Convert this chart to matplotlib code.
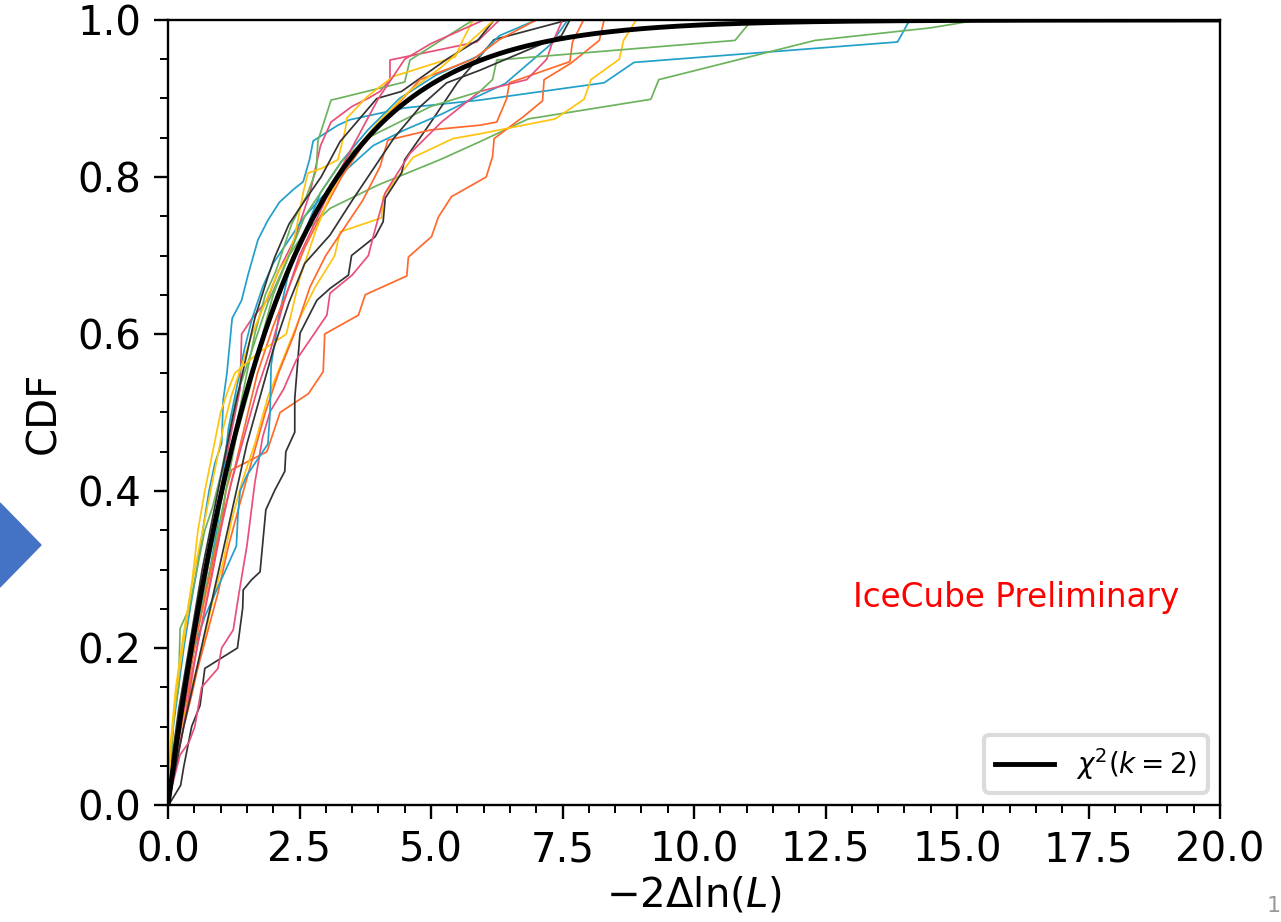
import numpy as np
import matplotlib
matplotlib.use("Agg")
import matplotlib.pyplot as plt
from matplotlib.patches import Polygon
from matplotlib.ticker import MultipleLocator

# ---------------- data ----------------
blue1_x = [0, 0.04, 0.1, 0.2, 0.3, 0.42, 0.55, 0.67, 0.78, 0.89, 1.02, 1.05, 1.12, 1.18, 1.22, 1.4, 1.52, 1.71, 1.9, 2.12, 2.4, 2.57, 2.69, 2.76, 3.23, 3.46, 4.5, 5.93, 8.29, 8.86, 13.87, 14.1]
blue1_y = [0, 0.05, 0.1, 0.15, 0.2, 0.25, 0.3, 0.354, 0.4, 0.435, 0.461, 0.516, 0.55, 0.592, 0.62, 0.643, 0.675, 0.72, 0.745, 0.768, 0.785, 0.794, 0.822, 0.846, 0.866, 0.873, 0.888, 0.898, 0.92, 0.946, 0.972, 1.0]

blue2_x = [0, 0.1, 0.25, 0.4, 0.6, 0.8, 0.95, 1.05, 1.15, 1.3, 1.45, 1.6, 1.8, 2.0, 2.3, 2.6, 3.0, 3.4, 3.9, 4.5, 5.2, 5.8, 6.41, 7.26, 7.6]
blue2_y = [0, 0.06, 0.12, 0.18, 0.24, 0.3, 0.36, 0.42, 0.48, 0.53, 0.58, 0.62, 0.66, 0.69, 0.72, 0.75, 0.78, 0.81, 0.84, 0.86, 0.88, 0.9, 0.919, 0.968, 1.0]

blue3_x = [0, 0.1, 0.2, 0.35, 0.5, 0.7, 0.9, 1.1, 1.3, 1.33, 1.37, 1.5, 1.7, 1.9, 1.94, 1.96, 2.1, 2.3, 2.6, 2.9, 3.3, 3.8, 4.4, 5.1, 5.93, 6.3, 7.0]
blue3_y = [0, 0.05, 0.1, 0.15, 0.2, 0.24, 0.27, 0.3, 0.33, 0.37, 0.4, 0.42, 0.44, 0.46, 0.5, 0.56, 0.62, 0.68, 0.73, 0.78, 0.82, 0.86, 0.9, 0.93, 0.955, 0.98, 1.0]

green1_x = [0, 0.05, 0.12, 0.2, 0.23, 0.4, 0.55, 0.7, 0.85, 1.0, 1.15, 1.3, 1.5, 1.7, 1.9, 2.1, 2.3, 2.6, 3.08, 4.0, 5.17, 5.93, 6.85, 9.18, 9.33, 12.3, 14.5, 15.4]
green1_y = [0, 0.05, 0.12, 0.15, 0.225, 0.25, 0.3, 0.35, 0.38, 0.42, 0.47, 0.52, 0.56, 0.6, 0.64, 0.67, 0.7, 0.73, 0.76, 0.79, 0.822, 0.845, 0.874, 0.899, 0.924, 0.974, 0.99, 1.0]

green2_x = [0, 0.08, 0.18, 0.3, 0.45, 0.6, 0.75, 0.9, 1.05, 1.2, 1.35, 1.5, 1.65, 1.85, 2.05, 2.2, 2.35, 2.5, 2.63, 2.82, 2.85, 2.98, 3.1, 3.23, 4.5, 4.6, 5.8]
green2_y = [0, 0.05, 0.1, 0.15, 0.2, 0.25, 0.3, 0.35, 0.4, 0.45, 0.5, 0.55, 0.6, 0.65, 0.68, 0.71, 0.74, 0.76, 0.775, 0.809, 0.846, 0.873, 0.898, 0.9, 0.921, 0.949, 1.0]

green3_x = [0, 0.1, 0.2, 0.35, 0.5, 0.7, 0.9, 1.1, 1.3, 1.55, 1.8, 2.0, 2.3, 2.6, 2.9, 3.3, 3.8, 4.4, 5.0, 5.93, 6.17, 6.25, 10.78, 11.1]
green3_y = [0, 0.05, 0.1, 0.15, 0.2, 0.27, 0.33, 0.4, 0.47, 0.53, 0.6, 0.65, 0.7, 0.75, 0.78, 0.82, 0.85, 0.87, 0.89, 0.909, 0.924, 0.949, 0.974, 1.0]

orange1_x = [0, 0.1, 0.25, 0.4, 0.55, 0.7, 0.85, 1.0, 1.1, 1.21, 1.88, 2.13, 2.67, 2.95, 2.98, 3.62, 3.75, 4.54, 4.57, 5.01, 5.14, 5.39, 6.05, 6.17, 6.2, 6.76, 7.12, 7.15, 7.66, 8.2, 8.29]
orange1_y = [0, 0.05, 0.1, 0.15, 0.2, 0.25, 0.3, 0.35, 0.4, 0.427, 0.45, 0.5, 0.524, 0.552, 0.6, 0.624, 0.65, 0.674, 0.698, 0.724, 0.749, 0.775, 0.8, 0.826, 0.849, 0.877, 0.897, 0.924, 0.945, 0.974, 1.0]

orange2_x = [0, 0.15, 0.3, 0.45, 0.55, 0.75, 0.95, 1.15, 1.35, 1.6, 1.85, 2.1, 2.4, 2.7, 3.0, 3.4, 3.7, 4.03, 4.18, 5.0, 5.93, 6.25, 6.44, 6.49, 7.64, 7.69, 7.9]
orange2_y = [0, 0.05, 0.1, 0.14, 0.17, 0.22, 0.27, 0.33, 0.38, 0.44, 0.5, 0.55, 0.6, 0.66, 0.7, 0.74, 0.77, 0.813, 0.847, 0.86, 0.866, 0.87, 0.9, 0.92, 0.947, 0.972, 1.0]

orange3_x = [0, 0.12, 0.3, 0.5, 0.72, 0.95, 1.2, 1.45, 1.7, 2.0, 2.3, 2.6, 2.9, 3.3, 3.7, 4.2, 4.79, 5.8, 6.3, 7.0]
orange3_y = [0, 0.06, 0.13, 0.2, 0.27, 0.34, 0.41, 0.48, 0.55, 0.61, 0.66, 0.71, 0.75, 0.8, 0.84, 0.88, 0.924, 0.95, 0.975, 1.0]

yellow1_x = [0, 0.1, 0.25, 0.45, 0.65, 0.85, 1.05, 1.2, 1.4, 1.65, 1.9, 2.2, 2.5, 2.8, 3.08, 3.17, 3.27, 4.06, 4.09, 4.66, 5.42, 5.93, 7.36, 7.91, 8.04, 8.58, 8.66, 8.9]
yellow1_y = [0, 0.05, 0.1, 0.15, 0.2, 0.26, 0.31, 0.36, 0.41, 0.46, 0.52, 0.57, 0.62, 0.66, 0.69, 0.7, 0.73, 0.748, 0.775, 0.825, 0.849, 0.855, 0.874, 0.899, 0.924, 0.95, 0.974, 1.0]

yellow2_x = [0, 0.05, 0.15, 0.3, 0.45, 0.6, 0.75, 0.9, 1.05, 1.2, 1.4, 1.6, 1.85, 2.1, 2.3, 2.41, 2.57, 2.66, 2.92, 3.23, 3.37, 3.4, 3.78, 4.28, 5.46, 5.61, 5.8]
yellow2_y = [0, 0.08, 0.15, 0.22, 0.28, 0.33, 0.38, 0.43, 0.48, 0.52, 0.56, 0.6, 0.64, 0.68, 0.7, 0.724, 0.78, 0.805, 0.811, 0.822, 0.86, 0.875, 0.902, 0.928, 0.953, 0.975, 1.0]

yellow3_x = [0, 0.05, 0.15, 0.3, 0.45, 0.57, 0.7, 0.85, 1.0, 1.15, 1.27, 1.7, 2.25, 2.5, 2.8, 3.1, 3.5, 4.0, 4.6, 5.2, 5.7, 6.2]
yellow3_y = [0, 0.07, 0.14, 0.21, 0.28, 0.35, 0.4, 0.45, 0.5, 0.53, 0.55, 0.575, 0.6, 0.67, 0.73, 0.78, 0.83, 0.87, 0.91, 0.94, 0.97, 1.0]

pink1_x = [0, 0.1, 0.22, 0.35, 0.5, 0.65, 0.8, 0.95, 1.1, 1.25, 1.37, 1.4, 1.6, 1.88, 2.1, 2.4, 2.7, 2.9, 3.1, 3.5, 3.8, 4.03, 4.22, 4.22, 5.87, 6.3]
pink1_y = [0, 0.04, 0.09, 0.14, 0.2, 0.26, 0.32, 0.38, 0.44, 0.49, 0.53, 0.6, 0.62, 0.643, 0.68, 0.72, 0.78, 0.84, 0.87, 0.89, 0.9, 0.909, 0.924, 0.949, 0.972, 1.0]

pink2_x = [0, 0.1, 0.23, 0.4, 0.51, 0.64, 0.95, 1.02, 1.24, 1.35, 1.5, 1.65, 1.8, 1.94, 2.2, 2.44, 3.02, 3.08, 3.5, 3.81, 3.9, 4.13, 4.6, 5.2, 5.93, 6.82, 7.2, 7.29, 7.5]
pink2_y = [0, 0.03, 0.064, 0.08, 0.1, 0.15, 0.174, 0.2, 0.223, 0.27, 0.33, 0.41, 0.469, 0.501, 0.53, 0.567, 0.624, 0.652, 0.675, 0.7, 0.724, 0.78, 0.83, 0.87, 0.909, 0.924, 0.95, 0.968, 1.0]

pink3_x = [0, 0.15, 0.35, 0.55, 0.8, 1.0, 1.2, 1.45, 1.7, 1.95, 2.2, 2.5, 2.85, 3.2, 3.6, 4.0, 4.5, 5.0, 5.5, 6.0]
pink3_y = [0, 0.05, 0.12, 0.2, 0.28, 0.35, 0.41, 0.47, 0.53, 0.58, 0.64, 0.7, 0.75, 0.8, 0.85, 0.9, 0.95, 0.97, 0.985, 1.0]

black1_x = [0, 0.04, 0.24, 0.30, 0.45, 0.61, 0.70, 1.32, 1.42, 1.43, 1.59, 1.75, 1.86, 2.03, 2.22, 2.24, 2.41, 2.41, 2.51, 2.83, 3.08, 3.43, 3.49, 3.94, 4.09, 4.13, 4.44, 4.5, 5.0, 5.5, 6.2, 7.6]
black1_y = [0, 0.003, 0.025, 0.049, 0.1, 0.127, 0.174, 0.2, 0.251, 0.274, 0.287, 0.297, 0.376, 0.401, 0.425, 0.45, 0.475, 0.518, 0.601, 0.643, 0.658, 0.675, 0.7, 0.724, 0.743, 0.773, 0.805, 0.822, 0.87, 0.92, 0.975, 1.0]

black2_x = [0, 0.08, 0.2, 0.35, 0.5, 0.65, 0.8, 0.95, 1.1, 1.25, 1.45, 1.65, 1.9, 2.03, 2.3, 2.6, 2.91, 3.27, 3.97, 4.44, 5.3, 5.9, 6.2]
black2_y = [0, 0.06, 0.12, 0.18, 0.24, 0.3, 0.35, 0.4, 0.45, 0.5, 0.56, 0.62, 0.673, 0.698, 0.74, 0.77, 0.8, 0.845, 0.9, 0.909, 0.95, 0.975, 1.0]

black3_x = [0, 0.15, 0.3, 0.5, 0.7, 0.9, 1.1, 1.3, 1.5, 1.75, 2.0, 2.3, 2.6, 3.08, 3.5, 3.9, 4.3, 4.8, 5.3, 5.93, 7.48, 7.64]
black3_y = [0, 0.05, 0.1, 0.16, 0.22, 0.28, 0.34, 0.4, 0.46, 0.52, 0.58, 0.64, 0.69, 0.726, 0.77, 0.81, 0.85, 0.89, 0.92, 0.936, 0.98, 1.0]

chi2_dof = 2
x_max = 20.0
legend_label = r'$\chi^2(k=2)$'
x_label = r'$-2\Delta\ln(L)$'
y_label = 'CDF'
watermark = 'IceCube Preliminary'

# ---------------- styling ----------------
c_blue = '#22a0c9'
c_green = '#6db35e'
c_orange = '#ff6a2c'
c_yellow = '#ffc40f'
c_pink = '#e8507a'
c_black = '#333333'

series = [
    (blue1_x, blue1_y, c_blue), (green1_x, green1_y, c_green),
    (orange1_x, orange1_y, c_orange), (yellow1_x, yellow1_y, c_yellow),
    (pink1_x, pink1_y, c_pink), (black1_x, black1_y, c_black),
    (blue2_x, blue2_y, c_blue), (green2_x, green2_y, c_green),
    (orange2_x, orange2_y, c_orange), (yellow2_x, yellow2_y, c_yellow),
    (pink2_x, pink2_y, c_pink), (black2_x, black2_y, c_black),
    (blue3_x, blue3_y, c_blue), (green3_x, green3_y, c_green),
    (orange3_x, orange3_y, c_orange), (yellow3_x, yellow3_y, c_yellow),
    (pink3_x, pink3_y, c_pink), (black3_x, black3_y, c_black),
]

W, H = 1281, 922
fig = plt.figure(figsize=(W / 100, H / 100), dpi=100)
ax = fig.add_axes([168 / W, 1 - 805 / H, (1220 - 168) / W, (805 - 20) / H])

for xs, ys, col in series:
    ax.plot(xs, ys, color=col, lw=1.25, zorder=2)

grid = np.linspace(0, x_max, 500)
cdf = 1 - np.exp(-grid / chi2_dof)
ax.plot(grid, cdf, color='black', lw=3.5, zorder=3, label=legend_label)

ax.set_xlim(0, x_max)
ax.set_ylim(0, 1)
ax.xaxis.set_major_locator(MultipleLocator(2.5))
ax.xaxis.set_minor_locator(MultipleLocator(0.5))
ax.yaxis.set_major_locator(MultipleLocator(0.2))
ax.yaxis.set_minor_locator(MultipleLocator(0.05))
ax.tick_params(which='major', direction='out', length=10, width=1.7, labelsize=29)
ax.tick_params(axis='y', which='major', pad=9)
ax.tick_params(axis='x', which='major', pad=8)
ax.tick_params(which='minor', direction='out', length=6, width=1.4)
for s in ax.spines.values():
    s.set_linewidth(1.7)

ax.set_xlabel(x_label, fontsize=29, labelpad=4)
ax.set_ylabel(y_label, fontsize=29, labelpad=10)

ax.text(0.651, 0.264, watermark, transform=ax.transAxes, color='red',
        fontsize=23.5, ha='left', va='center')

leg = ax.legend(loc='lower right', fontsize=20, frameon=True, fancybox=True,
                handlelength=2.1, borderpad=0.4, borderaxespad=0,
                bbox_to_anchor=(0.9886, 0.0153))
leg.get_frame().set_edgecolor('#d3d3d3')
leg.get_frame().set_linewidth(3)

# slide decorations
tri = Polygon([[0, 1 - 503 / H], [41 / W, 1 - 545 / H], [0, 1 - 587 / H]],
              closed=True, transform=fig.transFigure, color='#4472c4', zorder=0)
fig.patches.append(tri)
fig.text(1274 / W, 1 - 906 / H, '1', color='#999999', fontsize=16, ha='center', va='center')

fig.savefig('out.png', dpi=100)
